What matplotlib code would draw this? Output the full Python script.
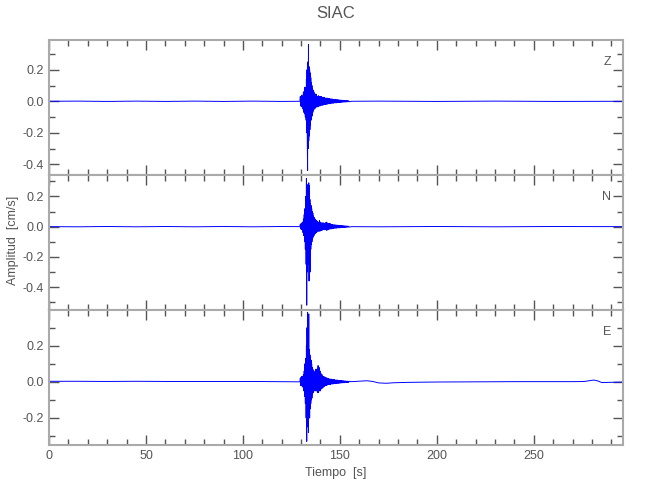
import matplotlib
matplotlib.use("Agg")
import numpy as np
import matplotlib.pyplot as plt
from matplotlib.ticker import MultipleLocator

station = "SIAC"
components = ["Z", "N", "E"]
x_max = 296.0
y_limits = [(-0.468, 0.389), (-0.552, 0.342), (-0.350, 0.398)]

# quiet trace before the arrival
t_pre = [0, 15, 30, 45, 60, 75, 90, 105, 120, 129.4]
z_pre = [0.0, 0.001, -0.001, 0.001, -0.001, 0.001, -0.001, 0.001, -0.001, 0.0]
n_pre = [0.0, -0.001, 0.001, -0.001, 0.001, -0.001, 0.001, -0.001, 0.001, 0.0]
e_pre = [0.003, 0.003, 0.002, 0.003, 0.002, 0.002, 0.002, 0.002, 0.001, 0.0]

# strong motion peaks (s, cm/s)
t_burst = [129.6, 129.8, 130.0, 130.2, 130.4, 130.6, 130.8, 131.0, 131.2, 131.4,
           131.6, 131.8, 132.0, 132.2, 132.4, 132.6, 132.75, 132.9, 133.05, 133.2,
           133.35, 133.5, 133.65, 133.8, 133.95, 134.1, 134.25, 134.4, 134.55, 134.7,
           134.85, 135.0, 135.15, 135.3, 135.45, 135.6, 135.75, 135.9, 136.05, 136.2,
           136.4, 136.6, 136.8, 137.0, 137.2, 137.4, 137.6, 137.8]
z_burst = [0.03, -0.03, 0.02, -0.035, 0.04, -0.03, 0.03, -0.05, 0.06, -0.07,
           0.05, -0.08, 0.09, -0.1, 0.08, -0.12, 0.14, -0.2, 0.2, -0.25,
           -0.44, 0.25, -0.3, 0.36, -0.25, 0.22, -0.22, 0.2, -0.18, 0.18,
           -0.15, 0.15, -0.12, 0.12, -0.1, 0.1, -0.09, 0.08, -0.07, 0.07,
           -0.06, 0.06, -0.05, 0.05, -0.045, 0.04, -0.04, 0.045]
n_burst = [0.015, -0.015, 0.02, -0.02, 0.025, -0.02, 0.03, -0.04, 0.05, -0.06,
           0.08, -0.1, 0.12, -0.15, 0.2, -0.25, 0.32, -0.52, 0.28, -0.3,
           0.25, -0.22, 0.2, -0.25, 0.29, -0.36, 0.27, -0.2, 0.18, -0.3,
           0.15, -0.15, 0.14, -0.12, 0.12, -0.1, 0.1, -0.08, 0.09, -0.07,
           0.07, -0.06, 0.06, -0.05, 0.05, -0.045, 0.04, -0.04]
e_burst = [0.02, -0.02, 0.025, -0.02, 0.03, -0.025, 0.03, -0.03, 0.04, -0.05,
           0.06, -0.08, 0.1, -0.12, 0.13, -0.2, 0.2, -0.33, 0.3, -0.2,
           0.385, -0.25, 0.25, -0.28, 0.376, -0.2, 0.18, -0.2, 0.15, -0.15,
           0.14, -0.12, 0.12, -0.1, 0.1, -0.09, 0.08, -0.07, 0.07, -0.06,
           0.06, -0.05, 0.05, -0.05, 0.06, -0.05, 0.07, -0.05]

# coda
t_coda = [138.0, 138.25, 138.5, 138.75, 139.0, 139.25, 139.5, 139.75,
          140.0, 140.25, 140.5, 140.75, 141.0, 141.25, 141.5, 141.75,
          142.0, 142.25, 142.5, 142.75, 143.0, 143.25, 143.5, 143.75,
          144.0, 144.25, 144.5, 144.75, 145.0, 145.25, 145.5, 145.75,
          146.0, 146.25, 146.5, 146.75, 147.0, 147.25, 147.5, 147.75,
          148.0, 148.25, 148.5, 148.75, 149.0, 149.25, 149.5, 149.75,
          150.0, 150.25, 150.5, 150.75, 151.0, 151.25, 151.5, 151.75,
          152.0, 152.25, 152.5, 152.75, 153.0, 153.25, 153.5, 153.75,
          154.0, 154.25, 154.5, 154.75]
z_coda = [0.035, -0.035, 0.03, -0.035, 0.035, -0.03, 0.03, -0.03,
          0.03, -0.025, 0.03, -0.025, 0.025, -0.025, 0.025, -0.02,
          0.025, -0.02, 0.02, -0.02, 0.02, -0.018, 0.02, -0.018,
          0.018, -0.015, 0.018, -0.015, 0.015, -0.015, 0.015, -0.012,
          0.015, -0.012, 0.012, -0.012, 0.012, -0.01, 0.012, -0.01,
          0.01, -0.01, 0.01, -0.008, 0.01, -0.008, 0.008, -0.008,
          0.008, -0.007, 0.007, -0.006, 0.007, -0.006, 0.006, -0.005,
          0.006, -0.005, 0.005, -0.005, 0.005, -0.004, 0.004, -0.004,
          0.004, -0.003, 0.003, -0.003]
n_coda = [0.04, -0.035, 0.035, -0.03, 0.03, -0.03, 0.04, -0.03,
          0.03, -0.025, 0.025, -0.025, 0.025, -0.02, 0.025, -0.02,
          0.02, -0.02, 0.025, -0.02, 0.03, -0.025, 0.025, -0.02,
          0.02, -0.02, 0.02, -0.015, 0.02, -0.015, 0.015, -0.015,
          0.015, -0.012, 0.012, -0.012, 0.012, -0.01, 0.012, -0.01,
          0.01, -0.01, 0.01, -0.008, 0.01, -0.008, 0.008, -0.008,
          0.008, -0.007, 0.007, -0.006, 0.007, -0.006, 0.006, -0.005,
          0.006, -0.005, 0.005, -0.005, 0.005, -0.004, 0.004, -0.004,
          0.004, -0.003, 0.003, -0.003]
e_coda = [-0.05, 0.07, -0.06, 0.09, -0.06, 0.08, -0.05, 0.06,
          -0.05, 0.045, -0.04, 0.04, -0.035, 0.03, -0.03, 0.03,
          -0.025, 0.025, -0.02, 0.025, -0.02, 0.02, -0.018, 0.02,
          -0.015, 0.018, -0.015, 0.015, -0.015, 0.015, -0.012, 0.015,
          -0.012, 0.012, -0.012, 0.012, -0.01, 0.012, -0.01, 0.01,
          -0.01, 0.01, -0.008, 0.01, -0.008, 0.008, -0.008, 0.008,
          -0.007, 0.007, -0.006, 0.007, -0.006, 0.006, -0.005, 0.006,
          -0.005, 0.005, -0.005, 0.005, -0.004, 0.004, -0.004, 0.004,
          -0.003, 0.003, -0.003, 0.003]

# late trace
t_post = [156, 170, 200, 230, 260, 296]
z_post = [0.0, 0.001, -0.001, 0.001, -0.001, 0.0]
n_post = [0.0, -0.001, 0.001, -0.001, 0.001, 0.0]
t_post_e = [156, 161, 164, 167, 170, 174, 178, 185, 200, 240, 270, 276, 279, 281,
            283, 285, 289, 296]
e_post = [0.001, 0.004, 0.006, 0.002, -0.006, -0.008, -0.005, -0.003, -0.001, 0.001,
          0.001, 0.002, 0.007, 0.01, 0.005, -0.004, -0.003, -0.001]

traces = [
    (t_pre + t_burst + t_coda + t_post, z_pre + z_burst + z_coda + z_post),
    (t_pre + t_burst + t_coda + t_post, n_pre + n_burst + n_coda + n_post),
    (t_pre + t_burst + t_coda + t_post_e, e_pre + e_burst + e_coda + e_post),
]

plt.rcParams['font.family'] = ['Liberation Sans', 'DejaVu Sans']
text_col = '#555555'
frame_col = '#aaaaaa'

fig = plt.figure(figsize=(6.5, 5.0), dpi=100)
left, right = 49 / 650, 623 / 650
top, bottom = 1 - 40 / 500, 1 - 445 / 500
h = (top - bottom) / 3

axes = []
for i, (comp, (t, v)) in enumerate(zip(components, traces)):
    ax = fig.add_axes([left, top - (i + 1) * h, right - left, h])
    ax.plot(t, v, color='#0000ff', linewidth=0.7)
    ax.set_xlim(0, x_max)
    ax.set_ylim(*y_limits[i])
    ax.xaxis.set_major_locator(MultipleLocator(50))
    ax.xaxis.set_minor_locator(MultipleLocator(10))
    ax.yaxis.set_major_locator(MultipleLocator(0.2))
    ax.yaxis.set_minor_locator(MultipleLocator(0.1))
    ax.yaxis.set_major_formatter(plt.FuncFormatter(lambda y, p: '%.1f' % y))
    ax.tick_params(which='both', direction='in', top=True, right=True,
                   colors=text_col, labelsize=9, width=1)
    ax.tick_params(which='major', length=7)
    ax.tick_params(which='minor', length=4)
    for s in ax.spines.values():
        s.set_color(frame_col)
        s.set_linewidth(1.5)
    if i < 2:
        ax.tick_params(labelbottom=False)
    ax.text(0.979, 0.84, comp, transform=ax.transAxes, ha='right', va='center',
            color=text_col, fontsize=9)
    axes.append(ax)

axes[-1].set_xlabel('Tiempo  [s]', color=text_col, fontsize=9, labelpad=4)
fig.text(336 / 650, 1 - 14 / 500, station, ha='center', va='center',
         color=text_col, fontsize=12)
fig.text(13 / 650, 0.5 + 0.02, 'Amplitud  [cm/s]', rotation=90, ha='center',
         va='center', color=text_col, fontsize=9)

fig.savefig('out.png', dpi=100)
